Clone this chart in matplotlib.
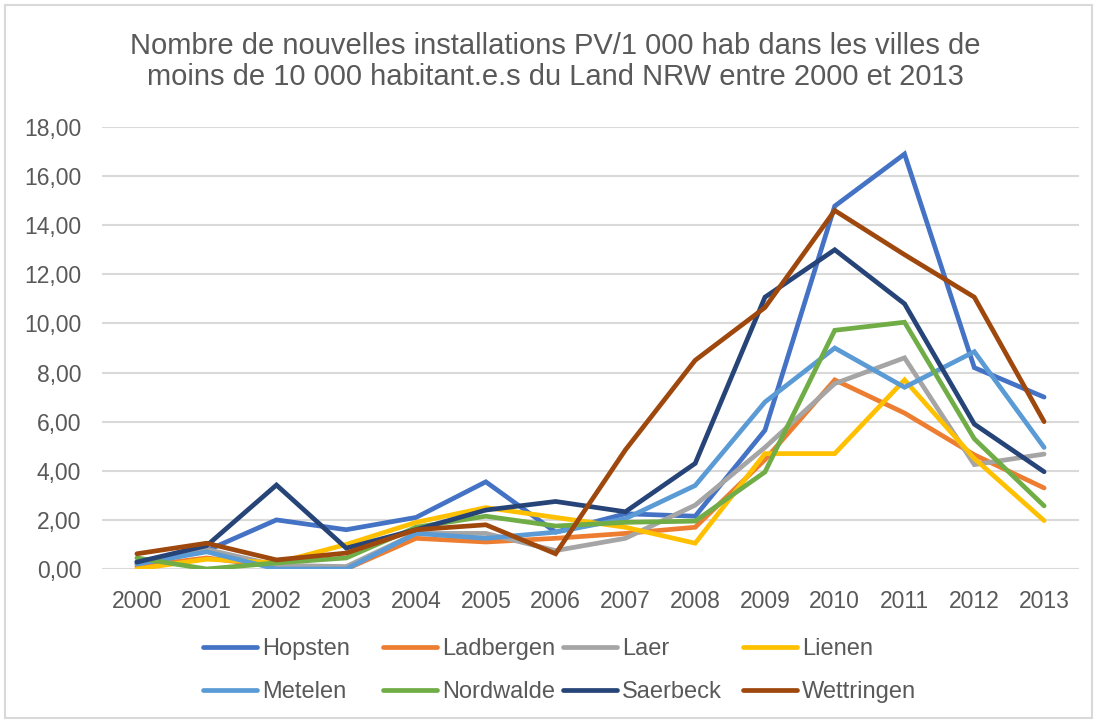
import matplotlib.pyplot as plt
from matplotlib.patches import Rectangle

plt.rcParams['font.family'] = ['Liberation Sans', 'DejaVu Sans']

# data
years = ['2000', '2001', '2002', '2003', '2004', '2005', '2006',
         '2007', '2008', '2009', '2010', '2011', '2012', '2013']

hopsten = [0.30, 0.75, 2.00, 1.60, 2.10, 3.55, 1.50, 2.25, 2.15, 5.65, 14.78, 16.90, 8.20, 7.00]
ladbergen = [0.10, 0.45, 0.10, 0.00, 1.25, 1.10, 1.25, 1.45, 1.70, 4.45, 7.70, 6.35, 4.65, 3.30]
laer = [0.20, 0.80, 0.15, 0.10, 1.45, 1.45, 0.75, 1.25, 2.60, 4.95, 7.55, 8.60, 4.25, 4.68]
lienen = [0.00, 0.40, 0.25, 1.00, 1.90, 2.50, 2.10, 1.70, 1.05, 4.70, 4.70, 7.70, 4.50, 1.97]
metelen = [0.20, 0.70, 0.00, 0.00, 1.45, 1.25, 1.50, 2.05, 3.40, 6.80, 9.00, 7.40, 8.85, 4.95]
nordwalde = [0.45, 0.00, 0.25, 0.45, 1.70, 2.15, 1.75, 1.90, 1.95, 3.95, 9.72, 10.05, 5.30, 2.57]
saerbeck = [0.28, 0.95, 3.42, 0.85, 1.60, 2.40, 2.75, 2.33, 4.30, 11.07, 13.00, 10.80, 5.90, 3.96]
wettringen = [0.62, 1.05, 0.37, 0.65, 1.60, 1.80, 0.62, 4.85, 8.50, 10.65, 14.60, 12.80, 11.07, 6.00]

names = ['Hopsten', 'Ladbergen', 'Laer', 'Lienen',
         'Metelen', 'Nordwalde', 'Saerbeck', 'Wettringen']
series = [hopsten, ladbergen, laer, lienen, metelen, nordwalde, saerbeck, wettringen]
colors = ['#4472C4', '#ED7D31', '#A5A5A5', '#FFC000',
          '#5B9BD5', '#70AD47', '#264478', '#9E480E']

text_color = '#595959'
grid_color = '#D9D9D9'

fig = plt.figure(figsize=(10.99, 7.21), dpi=100)
W, H = 1099, 721
ax = fig.add_axes([102 / W, (H - 569) / H, (1079 - 102) / W, (569 - 127) / H])

x = list(range(len(years)))
lines = []
for name, vals, c in zip(names, series, colors):
    ln, = ax.plot(x, vals, color=c, lw=3.4, label=name,
                  solid_joinstyle='miter', solid_capstyle='round')
    lines.append(ln)

ax.set_xlim(-0.5, len(years) - 0.5)
ax.set_ylim(0, 18)
ax.set_yticks(range(0, 19, 2))
ax.set_yticklabels([f'{v:.2f}'.replace('.', ',') for v in range(0, 19, 2)])
ax.set_xticks(x)
ax.set_xticklabels(years)
ax.tick_params(axis='both', length=0, labelsize=16.5, labelcolor=text_color)
ax.tick_params(axis='y', pad=15)
ax.tick_params(axis='x', pad=15)
ax.grid(axis='y', color=grid_color, lw=1.5)
ax.set_axisbelow(True)
for s in ax.spines.values():
    s.set_visible(False)

fig.text(555 / W, 1 - 46 / H,
         'Nombre de nouvelles installations PV/1 000 hab dans les villes de',
         ha='center', va='center', fontsize=21, color=text_color)
fig.text(555 / W, 1 - 77 / H,
         'moins de 10 000 habitant.e.s du Land NRW entre 2000 et 2013',
         ha='center', va='center', fontsize=21, color=text_color)

# legend: four equal-width columns, filled row by row
col_x = [203, 383, 563, 743]
for i, cx in enumerate(col_x):
    leg = fig.legend(handles=[lines[i], lines[i + 4]], loc='center left',
                     bbox_to_anchor=(cx / W, 1 - 670.5 / H),
                     frameon=False, fontsize=17, labelcolor=text_color,
                     handlelength=2.3, handletextpad=0.2, labelspacing=0.88,
                     borderpad=0, borderaxespad=0)

# light frame around the chart area
fig.add_artist(Rectangle((5 / W, 3 / H), 1 - 12 / W, 1 - 8 / H,
                         transform=fig.transFigure, fill=False,
                         edgecolor=grid_color, lw=1.5))

fig.savefig('out.png', dpi=100)
